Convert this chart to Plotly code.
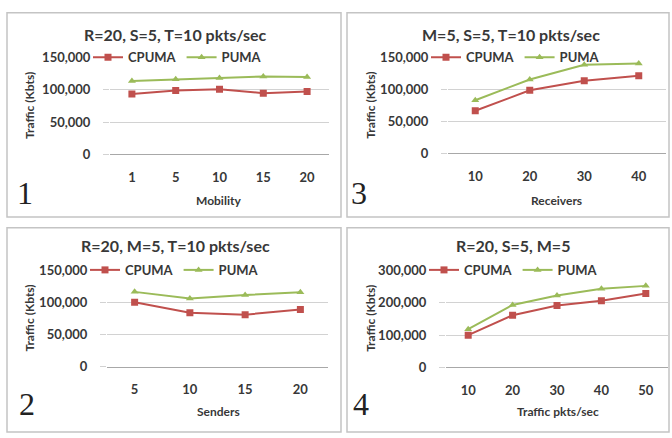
import plotly.graph_objects as go

W, H = 672, 438

# ---------------- data ----------------
mobility = ["1", "5", "10", "15", "20"]
mob_cpuma = [93500, 99000, 101000, 95000, 97500]
mob_puma = [114000, 116500, 118500, 121000, 120000]

senders = ["5", "10", "15", "20"]
snd_cpuma = [100500, 84000, 81000, 89000]
snd_puma = [116500, 106000, 111500, 116000]

receivers = ["10", "20", "30", "40"]
rcv_cpuma = [67000, 99000, 114000, 122000]
rcv_puma = [83500, 116000, 139000, 141000]

traffic = ["10", "20", "30", "40", "50"]
trf_cpuma = [99500, 161000, 191000, 206000, 228500]
trf_puma = [118000, 193000, 222500, 243000, 252000]

titles = ["R=20, S=5, T=10 pkts/sec", "M=5, S=5, T=10 pkts/sec",
          "R=20, M=5, T=10 pkts/sec", "R=20, S=5, M=5"]
xtitles = ["Mobility", "Receivers", "Senders", "Traffic pkts/sec"]
ytitle = "Traffic (Kbts)"
numbers = ["1", "3", "2", "4"]
series_names = ["CPUMA", "PUMA"]

# ---------------- layout helpers (pixels) ----------------
def px_x(x):
    return x / W

def px_y(y):
    return 1 - y / H

RED = "#c0504d"
GREEN = "#9bbb59"
TXT = "#383838"
GRID = "#d2d2d2"
FONT = "Lato"

panels = [
    dict(cats=mobility, c=mob_cpuma, p=mob_puma, x0=110, x1=329, yt=51.7, yb=151.7,
         ymax=150000, dt=50000, box=(7, 5, 341, 217), tx=175, ty=28, ytx=30,
         xtx=218, xty=200, nx=25, ny=192),
    dict(cats=receivers, c=rcv_cpuma, p=rcv_puma, x0=448, x1=666, yt=51.7, yb=151.0,
         ymax=150000, dt=50000, box=(347, 5, 669, 217), tx=511, ty=28, ytx=371,
         xtx=556, xty=200, nx=359, ny=192),
    dict(cats=senders, c=snd_cpuma, p=snd_puma, x0=107, x1=328, yt=272.3, yb=372.3,
         ymax=150000, dt=50000, box=(7, 228, 341, 440), tx=175, ty=247, ytx=30,
         xtx=218, xty=419, nx=27, ny=411),
    dict(cats=traffic, c=trf_cpuma, p=trf_puma, x0=446, x1=668, yt=272.3, yb=373.0,
         ymax=300000, dt=100000, box=(347, 228, 669, 440), tx=513, ty=246, ytx=371,
         xtx=558, xty=419, nx=361, ny=411),
]

fig = go.Figure()
layout = dict(width=W, height=H, margin=dict(l=0, r=0, t=0, b=0),
              paper_bgcolor="white", plot_bgcolor="white",
              font=dict(family=FONT, color=TXT), shapes=[], annotations=[])

for i, pn in enumerate(panels):
    k = "" if i == 0 else str(i + 1)
    xa, ya = "x" + k, "y" + k
    lg = "legend" + k
    n = len(pn["cats"])
    fig.add_trace(go.Scatter(
        x=pn["cats"], y=pn["c"], name=series_names[0], mode="lines+markers",
        line=dict(color=RED, width=2), marker=dict(symbol="square", size=7, color=RED),
        xaxis=xa, yaxis=ya, legend=lg))
    fig.add_trace(go.Scatter(
        x=pn["cats"], y=pn["p"], name=series_names[1], mode="lines+markers",
        line=dict(color=GREEN, width=2), marker=dict(symbol="triangle-up", size=7, color=GREEN),
        xaxis=xa, yaxis=ya, legend=lg))

    layout["xaxis" + k] = dict(
        domain=[px_x(pn["x0"]), px_x(pn["x1"])], anchor=ya, type="category",
        range=[-0.5, n - 0.5], showgrid=False, showline=True, linecolor="#a8a8a8",
        linewidth=1, ticks="outside", ticklen=11, tickcolor="rgba(0,0,0,0)",
        tickfont=dict(family=FONT, size=13, weight="bold", color=TXT), fixedrange=True)
    layout["yaxis" + k] = dict(
        domain=[px_y(pn["yb"]), px_y(pn["yt"])], anchor=xa, range=[0, pn["ymax"]],
        dtick=pn["dt"], tick0=0, tickformat=",d", showgrid=True, gridcolor=GRID,
        gridwidth=1, zeroline=False, showline=False, ticks="outside", ticklen=6,
        tickcolor=GRID, ticklabelstandoff=10,
        tickfont=dict(family=FONT, size=13, weight="bold", color=TXT), fixedrange=True)
    layout[lg] = dict(
        x=px_x(pn["x0"] - 22), y=px_y(pn["yt"] - 16), xanchor="left", yanchor="top",
        orientation="h", bgcolor="rgba(0,0,0,0)", itemwidth=30,
        font=dict(family=FONT, size=13, weight="bold", color=TXT), tracegroupgap=0)

    bx0, by0, bx1, by1 = pn["box"]
    layout["shapes"].append(dict(type="rect", xref="paper", yref="paper",
                                 x0=px_x(bx0), x1=px_x(bx1), y0=px_y(by1), y1=px_y(by0),
                                 line=dict(color="#c4c4c4", width=1.5), layer="below"))
    layout["annotations"] += [
        dict(text=titles[i], x=px_x(pn["tx"]), y=px_y(pn["ty"]), xref="paper", yref="paper",
             showarrow=False, xanchor="center", yanchor="middle",
             font=dict(family=FONT, size=16, weight="bold", color=TXT)),
        dict(text=ytitle, x=px_x(pn["ytx"]), y=px_y((pn["yt"] + pn["yb"]) / 2),
             xref="paper", yref="paper", showarrow=False, textangle=-90,
             xanchor="center", yanchor="middle",
             font=dict(family=FONT, size=12, weight="bold", color=TXT)),
        dict(text=xtitles[i], x=px_x(pn["xtx"]), y=px_y(pn["xty"]), xref="paper",
             yref="paper", showarrow=False, xanchor="center", yanchor="middle",
             font=dict(family=FONT, size=12, weight="bold", color=TXT)),
        dict(text=numbers[i], x=px_x(pn["nx"]), y=px_y(pn["ny"]), xref="paper",
             yref="paper", showarrow=False, xanchor="center", yanchor="middle",
             font=dict(family="Liberation Serif", size=32, color="#222222")),
    ]

fig.update_layout(**layout)
fig.write_html("out.html")
